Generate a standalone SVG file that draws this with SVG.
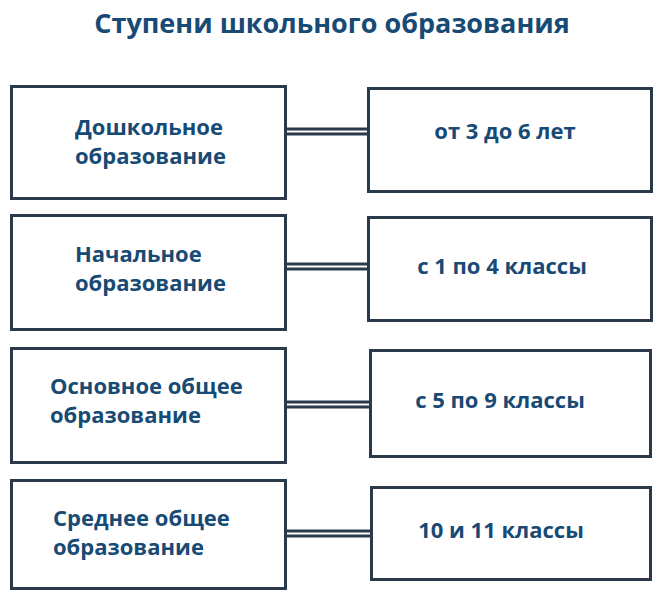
<svg xmlns="http://www.w3.org/2000/svg" width="663" height="600" viewBox="0 0 663 600">
<style>
.box{fill:#fff;stroke:#2a3a4a;stroke-width:3}
.t{font-family:"Open Sans","Liberation Sans",sans-serif;font-weight:bold;font-size:22px;fill:#174a74}
.title{font-family:"Open Sans","Liberation Sans",sans-serif;font-weight:bold;font-size:27px;fill:#174a74}
.c{stroke:#2a3a4a;stroke-width:3;fill:none}
</style>
<rect width="663" height="600" fill="#fff"/>
<text class="title" x="332" y="33" text-anchor="middle">Ступени школьного образования</text>
<g id="connectors">
<line class="c" x1="287" y1="129" x2="367" y2="129"/><line class="c" x1="287" y1="134" x2="367" y2="134"/>
<line class="c" x1="287" y1="264" x2="367" y2="264"/><line class="c" x1="287" y1="269" x2="367" y2="269"/>
<line class="c" x1="287" y1="402" x2="370" y2="402"/><line class="c" x1="287" y1="407" x2="370" y2="407"/>
<line class="c" x1="287" y1="531" x2="371" y2="531"/><line class="c" x1="287" y1="536" x2="371" y2="536"/>
</g>
<g id="n1"><rect class="box" x="11.5" y="86.5" width="274" height="112"/><text class="t" x="75" y="135">Дошкольное</text><text class="t" x="75" y="164">образование</text></g>
<g id="n2"><rect class="box" x="368.5" y="88.5" width="283" height="103"/><text class="t" x="505" y="139" text-anchor="middle">от 3 до 6 лет</text></g>
<g id="n3"><rect class="box" x="11.5" y="215.5" width="274" height="114"/><text class="t" x="75" y="262">Начальное</text><text class="t" x="75" y="291">образование</text></g>
<g id="n4"><rect class="box" x="368.5" y="217.5" width="283" height="103"/><text class="t" x="502" y="274" text-anchor="middle">с 1 по 4 классы</text></g>
<g id="n5"><rect class="box" x="11.5" y="348.5" width="274" height="114"/><text class="t" x="50" y="394">Основное общее</text><text class="t" x="50" y="423">образование</text></g>
<g id="n6"><rect class="box" x="370.5" y="350.5" width="280" height="106"/><text class="t" x="500" y="408" text-anchor="middle">с 5 по 9 классы</text></g>
<g id="n7"><rect class="box" x="11.5" y="480.5" width="274" height="108"/><text class="t" x="53" y="526">Среднее общее</text><text class="t" x="53" y="555">образование</text></g>
<g id="n8"><rect class="box" x="371.5" y="487.5" width="279" height="92"/><text class="t" x="501" y="538" text-anchor="middle">10 и 11 классы</text></g>
</svg>
